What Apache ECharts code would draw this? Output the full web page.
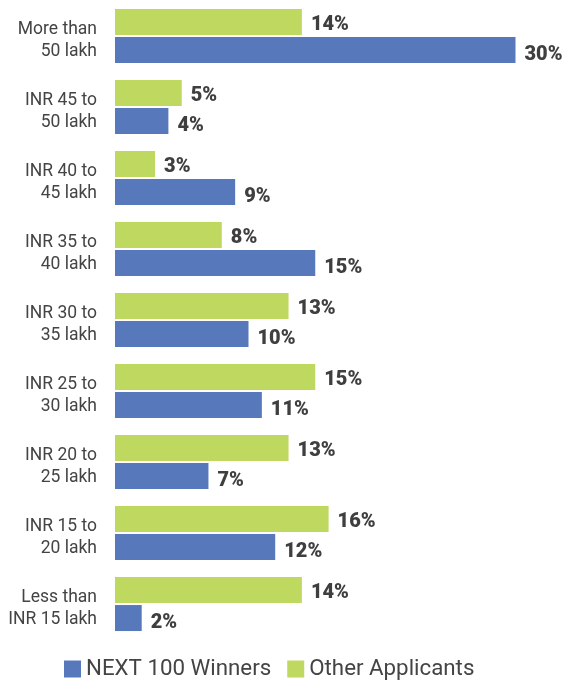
<!DOCTYPE html>
<html>
<head>
<meta charset="utf-8">
<script src="https://cdn.jsdelivr.net/npm/echarts@6/dist/echarts.min.js"></script>
<style>
html,body{margin:0;padding:0;background:#fff;}
#chart{width:568px;height:682px;}
</style>
</head>
<body>
<div id="chart"></div>
<script>
const categories = ['More than\n50 lakh', 'INR 45 to\n50 lakh', 'INR 40 to\n45 lakh', 'INR 35 to\n40 lakh', 'INR 30 to\n35 lakh', 'INR 25 to\n30 lakh', 'INR 20 to\n25 lakh', 'INR 15 to\n20 lakh', 'Less than\nINR 15 lakh'];
const winners = [30, 4, 9, 15, 10, 11, 7, 12, 2];
const others = [14, 5, 3, 8, 13, 15, 13, 16, 14];
const seriesNames = ['NEXT 100 Winners', 'Other Applicants'];

const chart = echarts.init(document.getElementById('chart'));
const labelStyle = {
  show: true,
  position: 'right',
  distance: 9,
  fontFamily: 'Roboto',
  fontWeight: 900,
  fontSize: 20,
  color: '#3f3f3f',
  formatter: '{c}%'
};
chart.setOption({
  animation: false,
  grid: {left: 115, top: 0.5, height: 639, width: 400.5},
  xAxis: {type: 'value', min: 0, max: 30, show: false},
  yAxis: {
    type: 'category',
    inverse: true,
    data: categories,
    axisLine: {show: false},
    axisTick: {show: false},
    axisLabel: {
      margin: 18,
      align: 'right',
      formatter: v => '{s| }\n' + v.split('\n').map(s => '{t|' + s + '}').join('\n'),
      rich: {
        s: {fontSize: 6, lineHeight: 9},
        t: {fontFamily: 'Roboto', fontSize: 17.5, lineHeight: 22.5, color: '#444444', align: 'right'}
      }
    }
  },
  legend: {
    data: seriesNames,
    left: 64,
    top: 658,
    padding: 0,
    itemWidth: 17,
    itemHeight: 17,
    itemGap: 16,
    icon: 'rect',
    textStyle: {fontFamily: 'Roboto', fontSize: 22.3, color: '#444444'}
  },
  series: [
    {
      name: seriesNames[1],
      type: 'bar',
      data: others,
      barWidth: 26,
      barGap: '8%',
      itemStyle: {color: '#BFD85F'},
      label: Object.assign({}, labelStyle, {offset: [0, 3]})
    },
    {
      name: seriesNames[0],
      type: 'bar',
      data: winners,
      barWidth: 26,
      barGap: '8%',
      itemStyle: {color: '#5778BA'},
      label: Object.assign({}, labelStyle, {offset: [0, 4.5]})
    }
  ]
});
</script>
</body>
</html>
